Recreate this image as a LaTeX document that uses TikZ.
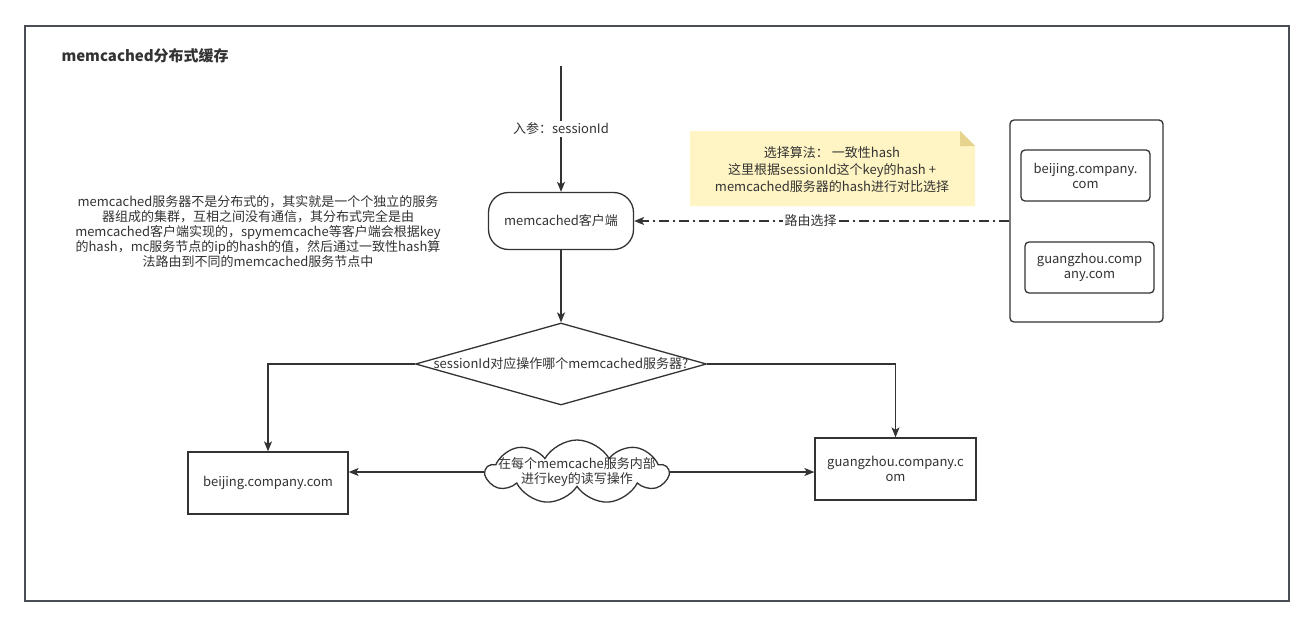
\documentclass[tikz,border=0pt]{standalone}
\usepackage{fontspec}
\setmainfont{Noto Sans CJK SC}
\usetikzlibrary{arrows.meta,shapes.geometric,shapes.symbols}
\definecolor{ink}{HTML}{333333}
\definecolor{txt}{HTML}{333333}
\definecolor{framec}{HTML}{4A4D55}
\definecolor{notefill}{HTML}{FFF4C3}
\definecolor{notefold}{HTML}{E6D38E}
\begin{document}
\begin{tikzpicture}[x=1pt,y=-1pt,
  every node/.style={font=\fontsize{13}{15}\selectfont, text=txt, align=center},
  box/.style={draw=ink, line width=1.3pt, inner sep=0pt},
  arr/.style={draw=ink, line width=1.1pt, -{Stealth[length=10pt,width=8pt,inset=2.5pt]}},
  lbl/.style={fill=white, inner sep=2pt}]
\useasboundingbox[fill=white] (0,0) rectangle (1313,626);
\draw[framec, line width=2pt] (25,26) rectangle (1289,601);
\node[anchor=west, font=\fontsize{15}{18}\selectfont\bfseries] (title) at (58,56) {memcached分布式缓存};
% client
\node[box, rounded corners=20pt, minimum width=145pt, minimum height=57pt] (client) at (561,221) {memcached客户端};
\coordinate (in) at (561,66);
\draw[arr] (in) -- node[lbl]{入参：sessionId} (client);
% paragraph
\node (para) at (258,232) {memcached服务器不是分布式的，其实就是一个个独立的服务\\器组成的集群，互相之间没有通信，其分布式完全是由\\memcached客户端实现的，spymemcache等客户端会根据key\\的hash，mc服务节点的ip的hash的值，然后通过一致性hash算\\法路由到不同的memcached服务节点中};
% note
\fill[notefill] (690,131) -- (960,131) -- (975,146) -- (975,206) -- (690,206) -- cycle;
\fill[notefold] (960,131) -- (960,146) -- (975,146) -- cycle;
\node[font=\fontsize{13}{17}\selectfont] (note) at (832,170) {选择算法： 一致性hash\\这里根据sessionId这个key的hash +\\memcached服务器的hash进行对比选择};
% server group
\node[box, rounded corners=4pt, minimum width=153pt, minimum height=202pt] (grp) at (1086.5,221) {};
\node[box, rounded corners=4pt, minimum width=129pt, minimum height=51pt] (bjs) at (1085.5,175.5) {beijing.company.\\com};
\node[box, rounded corners=4pt, minimum width=129pt, minimum height=51pt] (gzs) at (1089.5,267.5) {guangzhou.comp\\any.com};
\draw[arr, dash pattern=on 10pt off 4pt on 2pt off 4pt] (grp.west) -- node[lbl, pos=0.53]{路由选择} (client.east);
% decision
\node[draw=ink, line width=1.3pt, diamond, minimum width=291pt, minimum height=82pt, inner sep=0pt] (dec) at (561,364) {};
\node (dectext) at (dec.center) {sessionId对应操作哪个memcached服务器?};
\draw[arr] (client) -- (dec);
% targets
\node[box, minimum width=160pt, minimum height=62pt] (bj) at (268,483) {beijing.company.com};
\node[box, minimum width=161pt, minimum height=62pt] (gz) at (895.5,469) {guangzhou.company.c\\om};
\draw[arr] (dec.west) -| (bj.north);
\draw[arr] (dec.east) -| (gz.north);
% cloud
\node[cloud, draw=ink, line width=1.3pt, cloud puffs=9, cloud puff arc=120, aspect=3, minimum width=182pt, minimum height=64pt, inner sep=0pt] (cl) at (577,472) {};
\node (cltext) at (cl.center) {在每个memcache服务内部\\进行key的读写操作};
\draw[arr] (cl.west) -- (cl.west -| bj.east);
\draw[arr] (cl.east) -- (cl.east -| gz.west);
\end{tikzpicture}
\end{document}
